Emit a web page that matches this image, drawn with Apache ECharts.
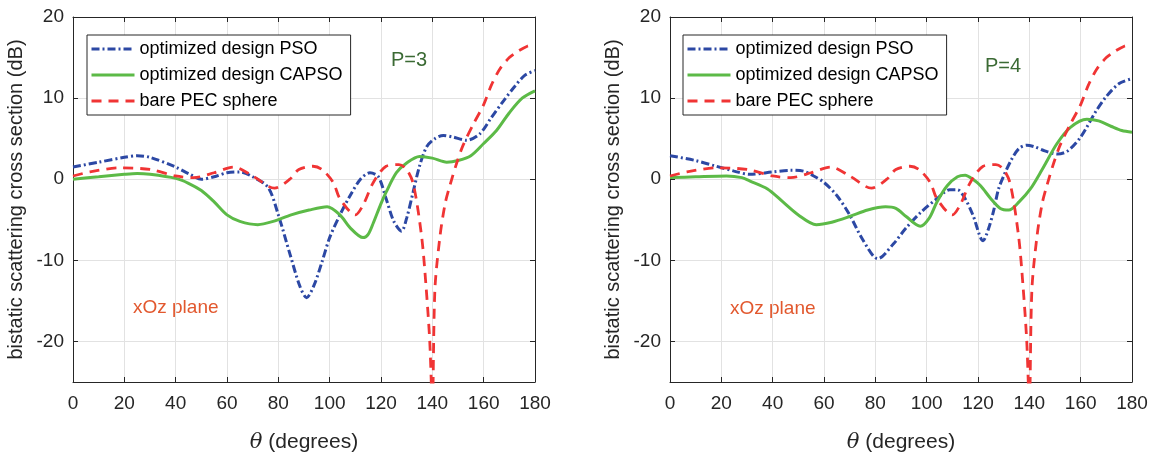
<!DOCTYPE html>
<html>
<head>
<meta charset="utf-8">
<title>bistatic scattering cross section</title>
<script src="https://cdn.jsdelivr.net/npm/echarts@6/dist/echarts.min.js"></script>
<style>
html, body { margin: 0; padding: 0; background: #fff; }
#chart { width: 1153px; height: 458px; }
</style>
</head>
<body>
<div id="chart"></div>
<script>
// series names (legend)
var names = ['optimized design PSO', 'optimized design CAPSO', 'bare PEC sphere'];

// P=3 : optimized design PSO
var pso3Theta = [0,10,20,25,30,40,45,50,55,60,65,70,76,80,84.5,88.4,91,94,97,100,104,108,112,115.7,119,122,125,128,130,132.5,135,137.8,141,144.3,148,153.4,158.5,163,167.6,172,176,180];
var pso3Db = [1.5,2.1,2.7,2.9,2.7,1.5,0.7,0.0,0.3,0.8,0.9,0.3,-1.0,-4.4,-9.2,-13.2,-14.6,-13.0,-10.2,-7.2,-4.4,-2.0,0.0,0.8,0.3,-2.4,-5.2,-6.4,-4.8,-1.6,1.6,4.0,5.0,5.4,5.2,4.8,5.6,7.6,9.6,11.4,12.8,13.4];

// P=3 : optimized design CAPSO
var capso3Theta = [0,10,20,25,30,40,45,50,55,60,65,72,78,85,92,99,104,108,113,115,117,120,122,126,130,135,140,145.6,150,155,160,165,170,175,180];
var capso3Db = [0,0.3,0.6,0.7,0.6,0.1,-0.5,-1.4,-2.8,-4.4,-5.2,-5.6,-5.2,-4.4,-3.8,-3.4,-4.4,-6.0,-7.2,-6.8,-5.4,-3.0,-1.6,0.8,2.0,2.8,2.6,2.1,2.3,2.9,4.4,6.0,8.2,10.0,10.9];

// bare PEC sphere (same in both panels)
var pecTheta = [0,6.6,18,30,40,47,55,62.5,70,78.5,84.5,88,93.5,97,101.4,104,110,113,117,122,127,130,132.6,135.8,137.5,139,140,141,143,145,147,149.5,152,156,160,163,166.3,170,173,177,180];
var pecDb = [0.4,0.9,1.4,1.2,0.4,0.2,0.8,1.5,0.4,-1.1,0.0,1.2,1.6,1.2,-0.4,-2.4,-4.4,-3.2,-0.4,1.6,1.8,1.2,-0.6,-7.0,-13.0,-20.0,-28.0,-13.6,-7.0,-3.0,-0.6,2.0,4.2,6.8,9.2,11.6,13.6,15.0,15.7,16.4,16.6];

// P=4 : optimized design PSO
var pso4Theta = [0,10,18,25,31,40,47,52,56,60,65,70,75,81,87,92,98,104,109,112,115,118,122,124,126,128,130,133,136,139,142,146,151,155,160,166,170,175,180];
var pso4Db = [2.9,2.3,1.6,1.0,0.6,0.9,1.1,1.0,0.4,-0.4,-2.0,-4.4,-7.4,-9.8,-8.0,-6.0,-4.0,-2.4,-1.3,-1.3,-2.4,-4.4,-7.6,-6.2,-4.0,-1.2,0.4,2.4,3.8,4.2,4.0,3.5,3.1,3.5,5.2,8.4,10.2,11.8,12.4];

// P=4 : optimized design CAPSO
var capso4Theta = [0,10,22,28,31,38,44,50,57,63,70,77,84,88,92,97.5,101,104,108,112,115,118,121,125,128.7,132,136,140.4,145,150.8,156,162.4,167,172,176,180];
var capso4Db = [0.2,0.3,0.4,0.2,-0.2,-1.2,-2.8,-4.4,-5.6,-5.3,-4.6,-3.8,-3.4,-3.6,-4.6,-5.8,-4.8,-2.8,-0.8,0.3,0.5,0.0,-0.8,-2.4,-3.6,-3.8,-2.8,-1.2,1.2,4.4,6.4,7.4,7.2,6.5,6.0,5.8];

// axis ranges
var thetaMin = 0, thetaMax = 180, thetaStep = 20;
var dbMin = -25, dbMax = 20;

var font = '"Liberation Sans", Arial, Helvetica, sans-serif';
var ink = '#262626';

function pairs(t, v) {
  return t.map(function (x, i) { return [x, v[i]]; });
}

function lineSeries(name, g, data, color, width, dash) {
  return {
    name: name,
    type: 'line',
    xAxisIndex: g,
    yAxisIndex: g,
    data: data,
    smooth: 0.3,
    showSymbol: false,
    symbol: 'none',
    clip: true,
    lineStyle: { color: color, width: width, type: dash, cap: 'butt' },
    itemStyle: { color: color }
  };
}

function bottomAxis(g) {
  return {
    type: 'value', gridIndex: g, position: 'bottom',
    min: thetaMin, max: thetaMax, interval: thetaStep,
    name: '{i|θ} (degrees)', nameLocation: 'middle', nameGap: 50,
    nameTextStyle: {
      fontSize: 21, color: ink, fontFamily: font,
      rich: { i: { fontSize: 21, fontStyle: 'italic', fontFamily: '"DejaVu Serif", serif', color: ink } }
    },
    axisLine: { show: true, onZero: false, lineStyle: { color: ink, width: 1 } },
    axisTick: { inside: true, length: 5, lineStyle: { color: ink } },
    axisLabel: { fontSize: 19, color: ink, margin: 12, fontFamily: font },
    splitLine: { show: true, lineStyle: { color: '#e2e2e2', width: 1 } }
  };
}

function topAxis(g) {
  return {
    type: 'value', gridIndex: g, position: 'top',
    min: thetaMin, max: thetaMax, interval: thetaStep,
    axisLine: { show: true, onZero: false, lineStyle: { color: ink, width: 1 } },
    axisTick: { inside: true, length: 5, lineStyle: { color: ink } },
    axisLabel: { show: false },
    splitLine: { show: false }
  };
}

function leftAxis(g) {
  return {
    type: 'value', gridIndex: g, position: 'left',
    min: dbMin, max: dbMax, splitNumber: 5,
    name: 'bistatic scattering cross section (dB)', nameLocation: 'middle', nameGap: 47,
    nameTextStyle: { fontSize: 20, color: ink, fontFamily: font },
    axisLine: { show: true, onZero: false, lineStyle: { color: ink, width: 1 } },
    axisTick: { inside: true, length: 5, lineStyle: { color: ink } },
    axisLabel: { fontSize: 19, color: ink, margin: 9, fontFamily: font, showMinLabel: false },
    splitLine: { show: true, lineStyle: { color: '#e2e2e2', width: 1 } }
  };
}

function rightAxis(g) {
  return {
    type: 'value', gridIndex: g, position: 'right',
    min: dbMin, max: dbMax, splitNumber: 5,
    axisLine: { show: true, onZero: false, lineStyle: { color: ink, width: 1 } },
    axisTick: { inside: true, length: 5, lineStyle: { color: ink } },
    axisLabel: { show: false },
    splitLine: { show: false }
  };
}

function legendAt(left) {
  return {
    left: left, top: 35, orient: 'vertical',
    data: names,
    itemWidth: 43, itemHeight: 14, itemGap: 8,
    padding: [5, 8, 5, 3],
    borderColor: ink, borderWidth: 1, backgroundColor: '#fff',
    itemStyle: { opacity: 0 },
    lineStyle: { width: 3 },
    textStyle: { fontSize: 18, color: '#000', fontFamily: font }
  };
}

var blue = '#2c48a4', green = '#5cba47', red = '#f03434';
var dashDot = [8, 3, 2, 3], dashed = [10, 7];

var chart = echarts.init(document.getElementById('chart'));
var option = {
  animation: false,
  backgroundColor: '#fff',
  grid: [
    { left: 73, top: 17, width: 462, height: 375 },
    { left: 670, top: 17, width: 462, height: 375 }
  ],
  xAxis: [bottomAxis(0), bottomAxis(1), topAxis(0), topAxis(1)],
  yAxis: [leftAxis(0), leftAxis(1), rightAxis(0), rightAxis(1)],
  legend: [legendAt(87), legendAt(683)],
  series: [
    lineSeries(names[0], 0, pairs(pso3Theta, pso3Db), blue, 3, dashDot),
    lineSeries(names[1], 0, pairs(capso3Theta, capso3Db), green, 3, 'solid'),
    lineSeries(names[2], 0, pairs(pecTheta, pecDb), red, 2.8, dashed),
    lineSeries(names[0], 1, pairs(pso4Theta, pso4Db), blue, 3, dashDot),
    lineSeries(names[1], 1, pairs(capso4Theta, capso4Db), green, 3, 'solid'),
    lineSeries(names[2], 1, pairs(pecTheta, pecDb), red, 2.8, dashed)
  ],
  graphic: [
    { type: 'text', left: 391, top: 50, style: { text: 'P=3', fill: '#3b6a34', font: '20px ' + font } },
    { type: 'text', left: 133, top: 298, style: { text: 'xOz plane', fill: '#e2582e', font: '19px ' + font } },
    { type: 'text', left: 985, top: 56, style: { text: 'P=4', fill: '#3b6a34', font: '20px ' + font } },
    { type: 'text', left: 730, top: 299, style: { text: 'xOz plane', fill: '#e2582e', font: '19px ' + font } }
  ]
};
chart.setOption(option);
</script>
</body>
</html>
